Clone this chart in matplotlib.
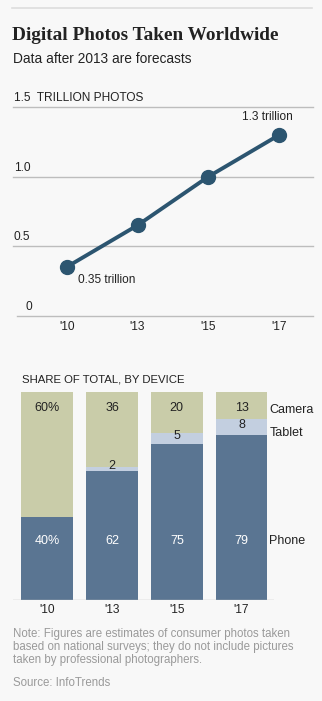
import matplotlib
matplotlib.use("Agg")
import matplotlib.pyplot as plt
from matplotlib.lines import Line2D

# ---- data ----
years = ["'10", "'13", "'15", "'17"]
photos_trillion = [0.35, 0.65, 1.0, 1.3]
y_ticks = [0, 0.5, 1.0, 1.5]

phone_share = [40, 62, 75, 79]
tablet_share = [0, 2, 5, 8]
camera_share = [60, 36, 20, 13]
phone_labels = ["40%", "62", "75", "79"]
tablet_labels = ["", "2", "5", "8"]
camera_labels = ["60%", "36", "20", "13"]
device_names = ["Camera", "Tablet", "Phone"]

# ---- style ----
BG = "#f8f8f8"
LINE_C = "#2c5570"
PHONE_C = "#5a7592"
TABLET_C = "#c3cfe0"
CAMERA_C = "#c9cca9"
GRID_C = "#bdbdbd"
TEXT_C = "#222222"
NOTE_C = "#9a9a9a"
SANS = ["Liberation Sans", "DejaVu Sans"]

W, H = 322, 701
fig = plt.figure(figsize=(W / 100, H / 100), dpi=100, facecolor=BG)


def fx(px):
    return px / W


def fy(py):
    return 1 - py / H


# top rule
fig.add_artist(Line2D([fx(12), fx(312)], [fy(8), fy(8)], color="#dddddd", lw=1.2))

fig.text(fx(12), fy(35), "Digital Photos Taken Worldwide", family=["Liberation Serif", "DejaVu Serif"],
         weight="bold", fontsize=13.9, color=TEXT_C, va="center", ha="left")
fig.text(fx(13), fy(59), "Data after 2013 are forecasts", family=SANS, fontsize=9.9,
         color=TEXT_C, va="center", ha="left")

# ---- line chart ----
ax1 = fig.add_axes([fx(13), fy(315.7), fx(313) - fx(13), fy(107) - fy(315.7)])
ax1.set_facecolor("none")
xpos = list(range(len(years)))
ax1.set_xlim(-0.757, 3.474)
ax1.set_ylim(0, 1.5)
for v in y_ticks:
    x0 = 0.013 if v == 0 else 0.0
    ax1.axhline(v, xmin=x0, xmax=1, color=GRID_C, lw=1.0, zorder=1, clip_on=False)
ax1.plot(xpos, photos_trillion, color=LINE_C, lw=2.8, marker="o", markersize=10,
         markerfacecolor=LINE_C, markeredgecolor=LINE_C, zorder=3, clip_on=False)
for s in ax1.spines.values():
    s.set_visible(False)
ax1.set_xticks(xpos)
ax1.set_xticklabels(years, family=SANS, fontsize=8.6, color=TEXT_C)
ax1.tick_params(axis="x", length=0, pad=4)
ax1.set_yticks([])
tlabels = ["0", "0.5", "1.0", "1.5  TRILLION PHOTOS"]
for v, lab in zip(y_ticks, tlabels):
    xx = 0.043 if v == 0 else 0.003
    ax1.text(xx, v + 0.02, lab, transform=ax1.get_yaxis_transform(), family=SANS,
             fontsize=8.6, color=TEXT_C, ha="left", va="bottom")
ax1.annotate("1.3 trillion", (xpos[3], photos_trillion[3]), xytext=(-8.4, 12.7),
             textcoords="offset points", family=SANS, fontsize=8.6, color=TEXT_C,
             ha="center", va="center")
ax1.annotate("0.35 trillion", (xpos[0], photos_trillion[0]), xytext=(7.9, -9.6),
             textcoords="offset points", family=SANS, fontsize=8.6, color=TEXT_C,
             ha="left", va="center")

# ---- stacked bar chart ----
ax2 = fig.add_axes([fx(13), fy(600), fx(274) - fx(13), fy(391.7) - fy(600)])
ax2.set_facecolor("none")
ax2.set_xlim(-0.528, 3.5)
ax2.set_ylim(0, 100)
bw = 0.795
ax2.bar(xpos, phone_share, width=bw, color=PHONE_C, zorder=2)
ax2.bar(xpos, tablet_share, width=bw, bottom=phone_share, color=TABLET_C, zorder=2)
bottoms = [p + t for p, t in zip(phone_share, tablet_share)]
ax2.bar(xpos, camera_share, width=bw, bottom=bottoms, color=CAMERA_C, zorder=2)
for s in ax2.spines.values():
    s.set_visible(False)
ax2.axhline(0, color=GRID_C, lw=1.0, zorder=3)
ax2.set_xticks(xpos)
ax2.set_xticklabels(years, family=SANS, fontsize=8.6, color=TEXT_C)
ax2.tick_params(axis="x", length=0, pad=3)
ax2.set_yticks([])

for i in xpos:
    ax2.text(i, 100 - 7.7, camera_labels[i], ha="center", va="center", family=SANS,
             fontsize=9, color=TEXT_C)
    ax2.text(i, 28.5, phone_labels[i], ha="center", va="center", family=SANS,
             fontsize=9, color="white")
    if tablet_labels[i]:
        ty = phone_share[i] + tablet_share[i] / 2 + (1.5 if tablet_share[i] < 4 else 1)
        ax2.text(i, ty, tablet_labels[i], ha="center", va="center", family=SANS,
                 fontsize=9, color=TEXT_C)

label_y = [100 - 8.7, 100 - 20, 28.5]
for name, yv in zip(device_names, label_y):
    ax2.text(3.43, yv, name, ha="left", va="center", family=SANS, fontsize=9,
             color=TEXT_C, clip_on=False)

fig.text(fx(22.5), fy(380), "SHARE OF TOTAL, BY DEVICE", family=SANS, fontsize=8.2,
         color=TEXT_C, ha="left", va="center")

# ---- notes ----
notes = ["Note: Figures are estimates of consumer photos taken",
         "based on national surveys; they do not include pictures",
         "taken by professional photographers."]
for k, line in enumerate(notes):
    fig.text(fx(13), fy(633.5 + 13.3 * k), line, family=SANS, fontsize=8.3,
             color=NOTE_C, ha="left", va="center")
fig.text(fx(13), fy(682.5), "Source: InfoTrends", family=SANS, fontsize=8.3,
         color=NOTE_C, ha="left", va="center")

fig.savefig("out.png", dpi=100, facecolor=BG)
